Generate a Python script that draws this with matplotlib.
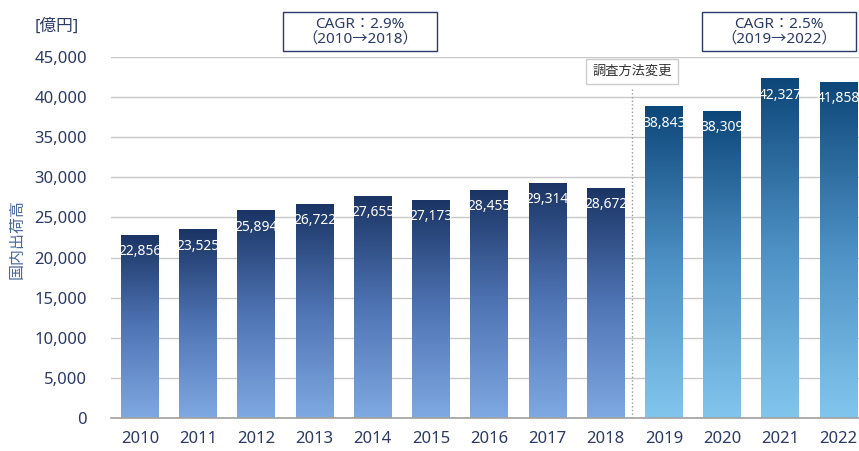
"""Domestic shipments bar chart with CAGR callouts."""

import numpy as np
import matplotlib
matplotlib.use("Agg")
import matplotlib.pyplot as plt
import matplotlib.patches as mpatches
from matplotlib.colors import LinearSegmentedColormap

plt.rcParams["font.family"] = ["Noto Sans", "Noto Sans CJK JP", "DejaVu Sans"]

years = ["2010", "2011", "2012", "2013", "2014", "2015", "2016",
         "2017", "2018", "2019", "2020", "2021", "2022"]
values = [22856, 23525, 25894, 26722, 27655, 27173, 28455,
          29314, 28672, 38843, 38309, 42327, 41858]
split_index = 9  # survey method changed from 2019
cagr_texts = ["CAGR：2.9%\n（2010→2018）", "CAGR：2.5%\n（2019→2022）"]
method_note = "調査方法変更"
y_label = "国内出荷高"
unit_label = "[億円]"

navy = "#2b3a67"
cmap_old = LinearSegmentedColormap.from_list("old", ["#7fa9e2", "#4f74b4", "#1a3464"])
cmap_new = LinearSegmentedColormap.from_list("new", ["#82c6ee", "#4d90c4", "#0d4679"])

fig = plt.figure(figsize=(8.59, 4.51), dpi=100)
ax = fig.add_axes([0.129, 0.073, 0.871, 0.801])

x = np.arange(len(years))
width = 0.65
grad = np.linspace(0, 1, 256).reshape(-1, 1)

bars = ax.bar(x, values, width=width, color="none", zorder=2)
for i, (b, v) in enumerate(zip(bars, values)):
    cmap = cmap_old if i < split_index else cmap_new
    x0 = b.get_x()
    im = ax.imshow(grad, cmap=cmap, origin="lower", aspect="auto",
                   extent=(x0, x0 + width, 0, v), zorder=2)
    im.set_clip_path(b)
    ax.text(i, v - 2100, f"{v:,}", ha="center", va="center", color="white",
            fontsize=10, zorder=3)

ax.set_xlim(-0.5, 12.35)
ax.set_ylim(0, 45000)
ax.set_yticks(np.arange(0, 45001, 5000))
ax.set_yticklabels([f"{t:,}" for t in range(0, 45001, 5000)])
ax.set_xticks(x)
ax.set_xticklabels(years)
ax.tick_params(axis="both", length=0, labelsize=12, colors=navy)
ax.tick_params(axis="x", pad=9)
ax.tick_params(axis="y", pad=17)
ax.grid(True, axis="y", color="#c8c8c8", linewidth=1, zorder=0)
ax.set_axisbelow(True)
for s in ["top", "right", "left"]:
    ax.spines[s].set_visible(False)
ax.spines["bottom"].set_color("#a0a0a0")
ax.spines["bottom"].set_linewidth(1.2)

# survey method change marker
ax.plot([split_index - 0.55, split_index - 0.55], [0, 41300], color="#999999",
        linestyle=":", linewidth=1, zorder=1)
ax.text(split_index - 0.55, 43200, method_note, ha="center", va="center",
        fontsize=9.5, color="#333333", zorder=4,
        bbox=dict(boxstyle="square,pad=0.45", facecolor="white", edgecolor="#cccccc"))

# CAGR callouts (boxes in figure fraction)
for cx, txt in zip([0.419, 0.907], cagr_texts):
    fig.patches.append(mpatches.Rectangle((cx - 0.0895, 0.887), 0.179, 0.086,
                                          transform=fig.transFigure, facecolor="white",
                                          edgecolor=navy, linewidth=1))
    fig.text(cx, 0.930, txt, ha="center", va="center", fontsize=11,
             color=navy, linespacing=1.0)

fig.text(0.021, 0.47, y_label, rotation=90, ha="center", va="center",
         fontsize=11.5, color="#4a6aa0")
fig.text(0.04, 0.94, unit_label, ha="left", va="center", fontsize=12, color=navy)

fig.savefig("out.png", dpi=100)
